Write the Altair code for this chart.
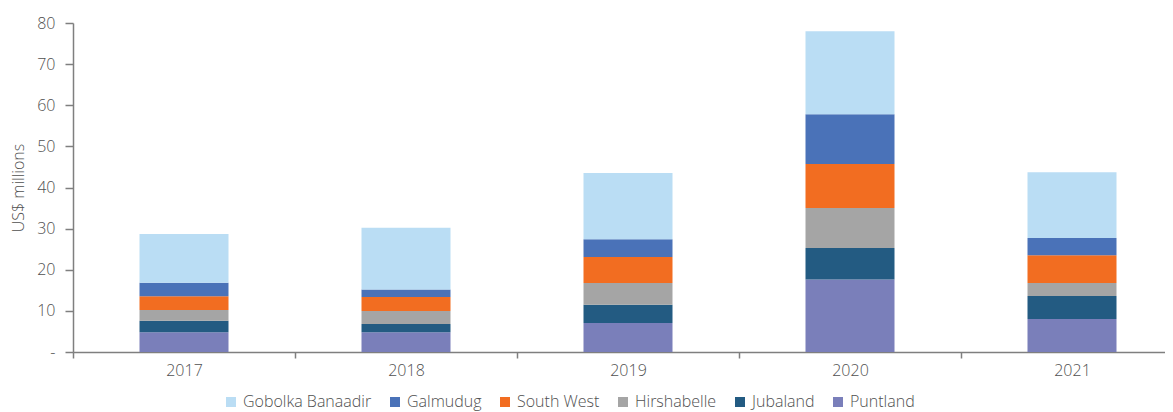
import altair as alt
import pandas as pd

years = ["2017", "2018", "2019", "2020", "2021"]
regions = ["Puntland", "Jubaland", "Hirshabelle", "South West", "Galmudug", "Gobolka Banaadir"]
legend_order = ["Gobolka Banaadir", "Galmudug", "South West", "Hirshabelle", "Jubaland", "Puntland"]
colors = ["#BADDF4", "#4A72B8", "#F26D21", "#A5A5A5", "#235B82", "#7A7FBA"]

puntland = [4.8, 4.8, 7.05, 17.6, 8.0]
jubaland = [2.8, 2.0, 4.45, 7.7, 5.6]
hirshabelle = [2.6, 3.2, 5.3, 9.7, 3.2]
south_west = [3.35, 3.4, 6.3, 10.7, 6.7]
galmudug = [3.3, 1.8, 4.3, 12.1, 4.2]
banaadir = [11.85, 15.0, 16.1, 20.2, 16.0]

series = [puntland, jubaland, hirshabelle, south_west, galmudug, banaadir]
rows = []
for i, (name, vals) in enumerate(zip(regions, series)):
    for y, v in zip(years, vals):
        rows.append({"year": y, "region": name, "value": v, "ord": i})
df = pd.DataFrame(rows)

FONT = "Open Sans"
TXT = "#505050"
AX = "#7f7f7f"

chart = alt.Chart(df).mark_bar(size=89).encode(
    x=alt.X("year:N", title=None,
            scale=alt.Scale(paddingInner=0, paddingOuter=0, range=[0, 1110]),
            axis=alt.Axis(labelAngle=0, tickBand="extent", domainColor=AX,
                          tickColor=AX, domainWidth=1.5, tickWidth=1.5, tickSize=6,
                          labelPadding=4)),
    y=alt.Y("value:Q", title="US$ millions", stack="zero",
            scale=alt.Scale(domain=[0, 80], nice=False),
            axis=alt.Axis(values=[0, 10, 20, 30, 40, 50, 60, 70, 80], grid=False,
                          labelExpr="datum.value == 0 ? '-' : datum.label",
                          domainColor=AX, tickColor=AX, domainWidth=1.5,
                          tickWidth=1.5, tickSize=8, titlePadding=10, labelPadding=10)),
    color=alt.Color("region:N", scale=alt.Scale(domain=legend_order, range=colors),
                    legend=alt.Legend(title=None, orient="none", direction="horizontal",
                                      legendX=150, legendY=371, symbolType="square",
                                      symbolSize=100, symbolStrokeWidth=0,
                                      columnPadding=15, labelFontSize=16, labelOffset=4,
                                      labelFontWeight=300,
                                      labelColor=TXT, labelFont=FONT, symbolOpacity=1)),
    order=alt.Order("ord:Q", sort="ascending"),
).properties(
    width=1092, height=329,
    autosize=alt.AutoSizeParams(type="none"),
    padding={"left": 65, "top": 15, "right": 0, "bottom": 60},
).configure_axis(
    labelFont=FONT, titleFont=FONT, labelFontSize=16, titleFontSize=16,
    labelColor=TXT, titleColor=TXT, titleFontWeight=300, labelFontWeight=300,
).configure_view(stroke=None)

chart.save("out.html", embed_options={"renderer": "svg", "actions": False})
